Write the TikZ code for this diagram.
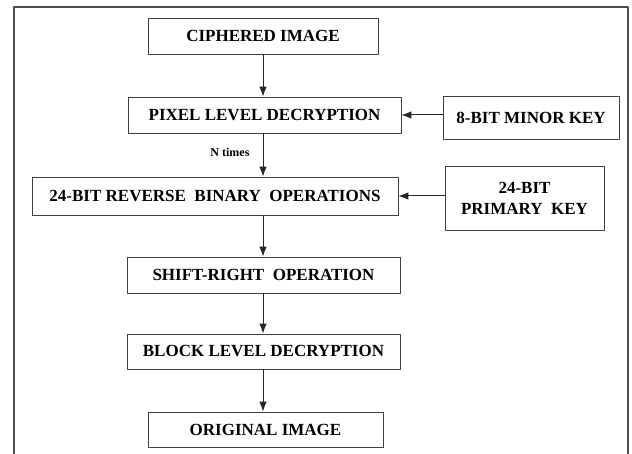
\documentclass[tikz,border=0pt]{standalone}
\usepackage{fontspec}
\setmainfont{Liberation Serif}
\usetikzlibrary{arrows.meta}
\tikzset{
	blk/.style={draw=black!75, line width=0.8pt, fill=white, inner sep=1pt, align=center, font=\fontsize{17}{19}\selectfont\bfseries},
	arr/.style={->, black!85, line width=1pt},
}
\begin{document}
\begin{tikzpicture}[x=1pt,y=-1pt,line join=round,>={Latex[length=10pt,width=7.5pt]}]
	\useasboundingbox[fill=white] (0,0) rectangle (632,454);
	\draw[black!70, line width=1.4pt] (14,454)--(14,7)--(628,7)--(628,454);
	\path (263,0) coordinate (A);
	\node[blk, minimum width=230, minimum height=36] (CI) at (263,36) {CIPHERED IMAGE};
	\node[blk, minimum width=273, minimum height=36] (PLD) at (264.5,115) {PIXEL LEVEL DECRYPTION};
	\node[blk, minimum width=176, minimum height=43] (MK) at (531,117.5) {8-BIT MINOR KEY};
	\node[blk, minimum width=366, minimum height=38] (RB) at (215,196) {24-BIT REVERSE\ \ BINARY\ \ OPERATIONS};
	\node[blk, minimum width=159, minimum height=64] (PK) at (524.5,198) {24-BIT\\[2pt]PRIMARY\ \ KEY};
	\node[blk, minimum width=273, minimum height=36] (SR) at (263.5,275) {SHIFT-RIGHT\ \ OPERATION};
	\node[blk, minimum width=273, minimum height=35] (BLD) at (263.5,351.5) {BLOCK LEVEL DECRYPTION};
	\node[blk, minimum width=235, minimum height=35] (OI) at (265.5,429.5) {ORIGINAL IMAGE};
	\foreach \a/\b in {CI/PLD,PLD/RB,RB/SR,SR/BLD,BLD/OI}{
		\draw[arr] (\a.south-|A)--(\b.north-|A);
	};
	\node[font=\fontsize{12}{13}\selectfont\bfseries, anchor=east] (N) at ([xshift=-10pt,yshift=-19pt]PLD.south-|A) {N times};
	\draw[arr] (MK.west|-PLD)--(PLD.east);
	\draw[arr] (PK.west|-RB)--(RB.east);
\end{tikzpicture}
\end{document}
